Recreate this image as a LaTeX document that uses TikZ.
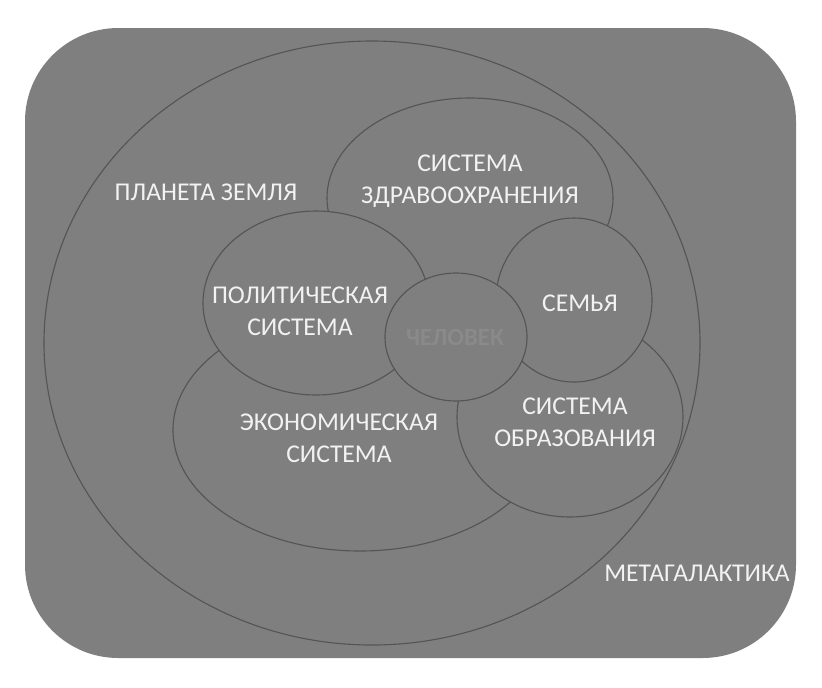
\documentclass[tikz,border=0pt]{standalone}
\usepackage{fontspec}
\setmainfont{Carlito}
\usetikzlibrary{shapes.geometric}
\definecolor{bgfill}{HTML}{7F7F7F}
\definecolor{edge}{HTML}{555555}
\definecolor{txt}{HTML}{F2F2F2}
\definecolor{faint}{HTML}{8A8A8A}
\tikzset{
  zone/.style={ellipse, draw=edge, fill=bgfill, line width=0.85pt, inner sep=0pt, outer sep=0pt},
  lbl/.style={text=txt, font=\fontsize{19.2}{24}\selectfont, align=center, inner sep=0pt},
}
\begin{document}
\begin{tikzpicture}[x=0.75pt, y=-0.75pt]
\useasboundingbox (0,0) rectangle (822,687);
\fill[bgfill, rounded corners=70pt] (25,28) rectangle (796,658);
\node[zone, minimum width=492pt, minimum height=453pt] (earth) at (372,343) {};
\node[zone, minimum width=214.5pt, minimum height=150pt] (health) at (470,198) {};
\node[zone, minimum width=280.5pt, minimum height=181.5pt] (econ) at (360,430) {};
\node[zone, minimum width=169.5pt, minimum height=138pt] (polit) at (316,303) {};
\node[zone, minimum width=169.5pt, minimum height=150pt] (edu) at (570,417) {};
\node[zone, minimum width=117pt, minimum height=123pt] (family) at (574,300) {};
\node[zone, minimum width=106.5pt, minimum height=96pt] (human) at (456,337) {};
\node[text=faint, font=\fontsize{18.5}{22}\bfseries\selectfont, inner sep=0pt] (humanlbl) at (455,337) {ЧЕЛОВЕК};
\node[lbl] (earthlbl) at (206,192) {ПЛАНЕТА ЗЕМЛЯ};
\node[lbl] (metalbl) at (697,573) {МЕТАГАЛАКТИКА};
\node[lbl] (healthlbl) at (470,181) {СИСТЕМА\\ЗДРАВООХРАНЕНИЯ};
\node[lbl] (politlbl) at (300,311) {ПОЛИТИЧЕСКАЯ\\СИСТЕМА};
\node[lbl] (econlbl) at (339,438) {ЭКОНОМИЧЕСКАЯ\\СИСТЕМА};
\node[lbl] (familylbl) at (580,303) {СЕМЬЯ};
\node[lbl] (edulbl) at (575,422) {СИСТЕМА\\ОБРАЗОВАНИЯ};
\end{tikzpicture}
\end{document}
